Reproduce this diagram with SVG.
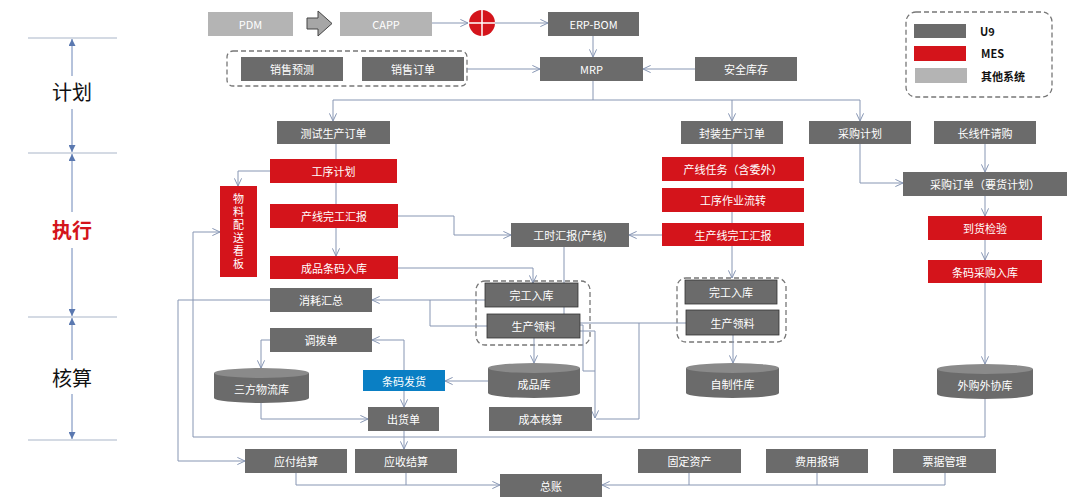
<svg xmlns="http://www.w3.org/2000/svg" width="1080" height="504" viewBox="0 0 1080 504">
<style>
text{font-family:"Noto Sans CJK SC","Noto Sans",sans-serif;font-size:11px;fill:#fff;text-anchor:middle;dominant-baseline:central}
.u9{fill:#6b6b6b}
.mes{fill:#d4141b}
.oth{fill:#b4b4b4}
.blue{fill:#0a7fc4}
.cyl{fill:#6b6b6b}
.cyltop{fill:#8a8a8a}
.c{fill:none;stroke:#8796b3;stroke-width:1}
.ax{fill:none;stroke:#a9b5c8;stroke-width:1}
.axv{fill:none;stroke:#6d86b8;stroke-width:1}
.dash{fill:none;stroke:#777;stroke-width:1.3;stroke-dasharray:5,3}
.lbl{fill:#111;font-size:20px}
.lblr{fill:#d4141b;font-size:20px;font-weight:bold}
.leg{fill:#111;font-size:11px;font-weight:bold;text-anchor:start}
.vert{writing-mode:vertical-rl;letter-spacing:2px}
</style>
<defs>
<marker id="a" viewBox="0 0 10 10" refX="9.5" refY="5" markerWidth="9" markerHeight="9" orient="auto" markerUnits="userSpaceOnUse"><path d="M1,1 L9.5,5 L1,9" fill="none" stroke="#8796b3" stroke-width="1.1"/></marker>
<marker id="t" viewBox="0 0 10 10" refX="10" refY="5" markerWidth="7" markerHeight="7" orient="auto" markerUnits="userSpaceOnUse"><path d="M0,0 L10,5 L0,10 Z" fill="#5a78b0"/></marker>
</defs>
<rect width="1080" height="504" fill="#fff"/>

<g id="axis">
<path class="ax" d="M28,38 H117 M28,153 H117 M28,317 H117 M28,440 H117"/>
<path class="axv" d="M72,76 V39" marker-end="url(#t)"/>
<path class="axv" d="M72,109 V152" marker-end="url(#t)"/>
<path class="axv" d="M72,212 V154" marker-end="url(#t)"/>
<path class="axv" d="M72,248 V316" marker-end="url(#t)"/>
<path class="axv" d="M72,360 V318" marker-end="url(#t)"/>
<path class="axv" d="M72,394 V439" marker-end="url(#t)"/>
<text class="lbl" x="72" y="91">计划</text>
<text class="lblr" x="72" y="229">执行</text>
<text class="lbl" x="72" y="377">核算</text>
</g>

<g id="groups">
<rect class="dash" x="227" y="51" width="240" height="35" rx="6"/>
<rect class="dash" x="476" y="281" width="114" height="64" rx="9"/>
<rect class="dash" x="677" y="278" width="109" height="64" rx="9"/>
</g>

<g id="legend">
<rect class="dash" x="906" y="12" width="146" height="85" rx="10"/>
<rect class="u9" x="914" y="24" width="52" height="14"/>
<rect class="mes" x="914" y="46" width="52" height="15"/>
<rect class="oth" x="915" y="68" width="52" height="15"/>
<text class="leg" x="980" y="31">U9</text>
<text class="leg" x="981" y="53">MES</text>
<text class="leg" x="981" y="76">其他系统</text>
</g>

<g id="connectors">
<path class="c" d="M432,23 H468" marker-end="url(#a)"/>
<path class="c" d="M495,23 H548" marker-end="url(#a)"/>
<path class="c" d="M593,35 V57" marker-end="url(#a)"/>
<path class="c" d="M467,69 H540" marker-end="url(#a)"/>
<path class="c" d="M695,69 H643" marker-end="url(#a)"/>
<path class="c" d="M593,81 V100 M333,100 H860"/>
<path class="c" d="M333,100 V121" marker-end="url(#a)"/>
<path class="c" d="M732,100 V121" marker-end="url(#a)"/>
<path class="c" d="M860,100 V121" marker-end="url(#a)"/>
<path class="c" d="M336,144 V159 M336,183 V204"/>
<path class="c" d="M336,228 V256" marker-end="url(#a)"/>
<path class="c" d="M270,171 H238 V186" marker-end="url(#a)"/>
<path class="c" d="M398,216 H454 V235 H511" marker-end="url(#a)"/>
<path class="c" d="M398,268 H533 V283" marker-end="url(#a)"/>
<path class="c" d="M564,247 V314"/>
<path class="c" d="M662,235 H629" marker-end="url(#a)"/>
<path class="c" d="M732,144 V157 M732,181 V188 M732,212 V223"/>
<path class="c" d="M732,246 V278" marker-end="url(#a)"/>
<path class="c" d="M485,300 H372" marker-end="url(#a)"/>
<path class="c" d="M487,326 H430 V300"/>
<path class="c" d="M270,300 H178 V461 H245" marker-end="url(#a)"/>
<path class="c" d="M985,399 V437 H193 V232 H220" marker-end="url(#a)"/>
<path class="c" d="M270,340 H261 V368" marker-end="url(#a)"/>
<path class="c" d="M261,403 V419 H368" marker-end="url(#a)"/>
<path class="c" d="M404,370 V340 H372" marker-end="url(#a)"/>
<path class="c" d="M404,391 V407" marker-end="url(#a)"/>
<path class="c" d="M488,381 H445" marker-end="url(#a)"/>
<path class="c" d="M534,338 V363" marker-end="url(#a)"/>
<path class="c" d="M580,331 H595 V418" marker-end="url(#a)"/>
<path class="c" d="M580,325 H583 V371 H595"/>
<path class="c" d="M580,323 H686 M639,323 V419 H596"/>
<path class="c" d="M733,335 V363" marker-end="url(#a)"/>
<path class="c" d="M860,144 V183 H903" marker-end="url(#a)"/>
<path class="c" d="M985,144 V172" marker-end="url(#a)"/>
<path class="c" d="M985,196 V216" marker-end="url(#a)"/>
<path class="c" d="M985,240 V260" marker-end="url(#a)"/>
<path class="c" d="M985,283 V364" marker-end="url(#a)"/>
<path class="c" d="M404,431 V449" marker-end="url(#a)"/>
<path class="c" d="M296,473 V485 H500" marker-end="url(#a)"/>
<path class="c" d="M406,473 V485"/>
<path class="c" d="M945,473 V485 H602" marker-end="url(#a)"/>
<path class="c" d="M689,473 V485 M817,473 V485"/>
</g>

<g id="pdm"><rect class="oth" x="208" y="12" width="85" height="24"/><text x="250.5" y="24">PDM</text></g>
<g id="bigarrow"><path d="M307,18 H318 V11 L332,23.5 L318,36 V29 H307 Z" fill="#a6a6a6" stroke="#444" stroke-width="1"/></g>
<g id="capp"><rect class="oth" x="340" y="12" width="92" height="24"/><text x="386" y="24">CAPP</text></g>
<g id="merge"><circle cx="482" cy="23" r="13" fill="#d4141b"/><path d="M469,23 H495 M482,10 V36" stroke="#fff" stroke-width="1.5"/></g>
<g id="erpbom"><rect class="u9" x="548" y="12" width="91" height="24"/><text x="593.5" y="24">ERP-BOM</text></g>
<g id="xsyc"><rect class="u9" x="241" y="57" width="102" height="24"/><text x="292" y="69">销售预测</text></g>
<g id="xsdd"><rect class="u9" x="362" y="57" width="102" height="24"/><text x="413" y="69">销售订单</text></g>
<g id="mrp"><rect class="u9" x="540" y="57" width="103" height="24"/><text x="591.5" y="69">MRP</text></g>
<g id="aqkc"><rect class="u9" x="695" y="57" width="102" height="24"/><text x="746" y="69">安全库存</text></g>
<g id="cssc"><rect class="u9" x="277" y="121" width="113" height="23"/><text x="333.5" y="132.5">测试生产订单</text></g>
<g id="fzsc"><rect class="u9" x="681" y="121" width="102" height="23"/><text x="732" y="132.5">封装生产订单</text></g>
<g id="cgjh"><rect class="u9" x="809" y="121" width="102" height="23"/><text x="860" y="132.5">采购计划</text></g>
<g id="cxjqg"><rect class="u9" x="934" y="121" width="102" height="23"/><text x="985" y="132.5">长线件请购</text></g>

<g id="gxjh"><rect class="mes" x="270" y="159" width="127" height="24"/><text x="333.5" y="171">工序计划</text></g>
<g id="wlps"><rect class="mes" x="220" y="186" width="37" height="91"/>
<text class="vert" x="238.5" y="232">物料配送看板</text></g>
<g id="cxwg"><rect class="mes" x="270" y="204" width="128" height="24"/><text x="334" y="216">产线完工汇报</text></g>
<g id="cptm"><rect class="mes" x="270" y="256" width="128" height="23"/><text x="334" y="267.5">成品条码入库</text></g>
<g id="gshb"><rect class="u9" x="511" y="223" width="118" height="24"/><text x="570" y="235">工时汇报(产线)</text></g>
<g id="cxrw"><rect class="mes" x="662" y="157" width="142" height="24"/><text x="733" y="169">产线任务（含委外）</text></g>
<g id="gxzy"><rect class="mes" x="662" y="188" width="142" height="24"/><text x="733" y="200">工序作业流转</text></g>
<g id="scxwg"><rect class="mes" x="662" y="223" width="142" height="23"/><text x="733" y="234.5">生产线完工汇报</text></g>
<g id="cgdd"><rect class="u9" x="903" y="172" width="164" height="24"/><text x="985" y="184">采购订单（要货计划）</text></g>
<g id="dhjy"><rect class="mes" x="928" y="216" width="114" height="24"/><text x="985" y="228">到货检验</text></g>
<g id="tmcg"><rect class="mes" x="928" y="260" width="114" height="23"/><text x="985" y="271.5">条码采购入库</text></g>

<g id="wgrk1"><rect class="u9" x="485" y="283" width="93" height="24" stroke="#333" stroke-width="0.8"/><text x="531.5" y="295">完工入库</text></g>
<g id="scll1"><rect class="u9" x="487" y="314" width="93" height="24" stroke="#333" stroke-width="0.8"/><text x="533.5" y="326">生产领料</text></g>
<g id="wgrk2"><rect class="u9" x="685" y="280" width="92" height="24" stroke="#333" stroke-width="0.8"/><text x="731" y="292">完工入库</text></g>
<g id="scll2"><rect class="u9" x="686" y="310" width="93" height="25" stroke="#333" stroke-width="0.8"/><text x="732.5" y="322.5">生产领料</text></g>
<g id="xhhz"><rect class="u9" x="270" y="288" width="102" height="24"/><text x="321" y="300">消耗汇总</text></g>
<g id="dbd"><rect class="u9" x="270" y="328" width="102" height="24"/><text x="321" y="340">调拨单</text></g>

<g id="sfwlk"><path class="cyl" d="M214,373 V398 A47.5,5 0 0 0 309,398 V373 Z"/><ellipse class="cyltop" cx="261.5" cy="373" rx="47.5" ry="5"/><text x="261.5" y="389">三方物流库</text></g>
<g id="tmfh"><rect class="blue" x="363" y="370" width="82" height="21"/><text x="404" y="380.5">条码发货</text></g>
<g id="cpk"><path class="cyl" d="M488,368 V393 A46,5 0 0 0 580,393 V368 Z"/><ellipse class="cyltop" cx="534" cy="368" rx="46" ry="5"/><text x="534" y="384">成品库</text></g>
<g id="zzjk"><path class="cyl" d="M686,368 V393 A46.5,5 0 0 0 779,393 V368 Z"/><ellipse class="cyltop" cx="732.5" cy="368" rx="46.5" ry="5"/><text x="732.5" y="384">自制件库</text></g>
<g id="wgwxk"><path class="cyl" d="M937,369 V394 A48,5 0 0 0 1033,394 V369 Z"/><ellipse class="cyltop" cx="985" cy="369" rx="48" ry="5"/><text x="985" y="385">外购外协库</text></g>
<g id="chd"><rect class="u9" x="368" y="407" width="71" height="24"/><text x="403.5" y="419">出货单</text></g>
<g id="cbhs"><rect class="u9" x="489" y="407" width="103" height="24"/><text x="540.5" y="419">成本核算</text></g>

<g id="yfjs"><rect class="u9" x="245" y="449" width="102" height="24"/><text x="296" y="461">应付结算</text></g>
<g id="ysjs"><rect class="u9" x="355" y="449" width="102" height="24"/><text x="406" y="461">应收结算</text></g>
<g id="zz"><rect class="u9" x="500" y="474" width="102" height="23"/><text x="551" y="485.5">总账</text></g>
<g id="gdzc"><rect class="u9" x="638" y="449" width="103" height="24"/><text x="689.5" y="461">固定资产</text></g>
<g id="fybx"><rect class="u9" x="766" y="449" width="102" height="24"/><text x="817" y="461">费用报销</text></g>
<g id="pjgl"><rect class="u9" x="893" y="449" width="103" height="24"/><text x="944.5" y="461">票据管理</text></g>
</svg>
